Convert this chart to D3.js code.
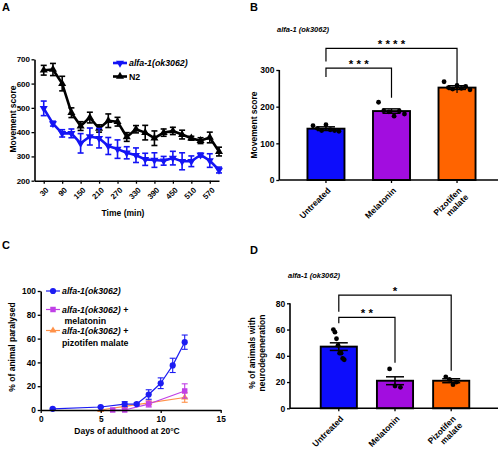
<!DOCTYPE html>
<html>
<head>
<meta charset="utf-8">
<script src="https://cdn.jsdelivr.net/npm/d3@7"></script>
<style>
  body { margin: 0; background: #fff; }
  svg { font-family: "Liberation Sans", Arial, sans-serif; font-weight: bold; }
</style>
</head>
<body>
<svg id="fig" width="500" height="452"></svg>
<script>
// ---- Panel A: movement score over time ----
var timeMin = [30, 60, 90, 120, 150, 180, 210, 240, 270, 300, 330, 360, 390, 420, 450, 480, 510, 540, 570, 600];
var alfaMove = [498, 435, 395, 395, 354, 382, 375, 343, 330, 315, 305, 288, 285, 282, 293, 280, 280, 306, 283, 244];
var alfaMoveErr = [30, 10, 15, 18, 40, 35, 40, 35, 38, 25, 30, 25, 30, 18, 28, 35, 22, 8, 28, 12];
var n2Move = [655, 658, 600, 480, 425, 460, 415, 447, 443, 380, 412, 398, 375, 398, 405, 390, 375, 365, 378, 320];
var n2MoveErr = [20, 25, 30, 20, 18, 22, 15, 28, 18, 18, 15, 30, 30, 15, 15, 18, 8, 12, 22, 18];
var timeTicks = [30, 90, 150, 210, 270, 330, 390, 450, 510, 570];
var moveTicksA = [200, 300, 400, 500, 600, 700];

// ---- Panel B: movement score by treatment ----
var treatments = ['Untreated', 'Melatonin', 'Pizotifen malate'];
var moveMean = [140, 188, 252];
var moveErr = [5, 6, 5];
var moveDots = [
  [148, 141, 135, 151, 137, 135, 133],
  [212, 189, 186, 174, 188, 180],
  [268, 252, 248, 258, 250, 255, 246]
];
var moveTicksB = [0, 100, 200, 300];
var moveSig = [
  { from: 0, to: 1, level: 305, leftEnd: 281, rightEnd: 224, label: '* * *' },
  { from: 0, to: 2, level: 359, leftEnd: 323, rightEnd: 237, label: '* * * *' }
];

// ---- Panel C: paralysis over days ----
var alfaDays = [1, 5, 7, 8, 9, 10, 11, 12];
var alfaPara = [1, 2.5, 5, 5, 13, 22.5, 37.5, 57];
var alfaParaErr = [0.5, 0.5, 2, 1, 4, 4.5, 6, 6];
var melaDays = [6, 7, 9, 12];
var melaPara = [0, 0, 5, 16];
var melaParaErr = [0, 0, 2.5, 6];
var pizoDays = [5, 7, 9, 12];
var pizoPara = [0, 3, 6, 10.5];
var pizoParaErr = [0, 1, 1.5, 4];
var dayTicks = [0, 5, 10, 15];
var paraTicks = [0, 20, 40, 60, 80, 100];

// ---- Panel D: neurodegeneration by treatment ----
var neuroMean = [47, 21, 21];
var neuroErr = [2.9, 3, 1.5];
var neuroDots = [
  [60, 58, 53, 48, 42, 42, 38, 37],
  [30, 17, 16],
  [24, 22, 18, 20]
];
var neuroTicks = [0, 20, 40, 60, 80];
var neuroSig = [
  { from: 0, to: 1, level: 69.3, leftEnd: 64.8, rightEnd: 34.7, label: '* *' },
  { from: 0, to: 2, level: 86.3, leftEnd: 73.6, rightEnd: 28.6, label: '*' }
];

var barColors = ['#0d0dfb', '#a20ddf', '#ff6400'];
var svg = d3.select('#fig');

function styleAxis(g, fs) {
  g.attr('font-family', null).attr('font-size', fs || 8);
  g.select('.domain').attr('stroke-width', 1.6);
  g.selectAll('.tick line').attr('stroke-width', 1.3);
  g.selectAll('.tick text').attr('fill', '#000').attr('font-weight', 'bold');
}

function rotateLabels(g, dx, dy) {
  g.selectAll('.tick text')
    .attr('x', 0).attr('y', 0).attr('dy', '0.35em')
    .attr('text-anchor', 'end')
    .attr('transform', 'translate(' + dx + ',' + dy + ') rotate(-45)');
}

function panelLabel(txt, x, y) {
  svg.append('text').attr('x', x).attr('y', y).attr('font-size', 11).text(txt);
}

function yTitle(lines, x, y, fs) {
  var t = svg.append('text').attr('transform', 'translate(' + x + ',' + y + ') rotate(-90)')
    .attr('text-anchor', 'middle').attr('font-size', fs);
  lines.forEach(function (l, i) {
    t.append('tspan').attr('x', 0).attr('dy', i === 0 ? (-(lines.length - 1) * 1.15) + 'em' : '1.15em').text(l);
  });
}

// error bars, connecting line and symbols for one series
function drawSeries(g, x, y, xs, ys, errs, opt) {
  var pts = xs.map(function (d, i) { return { x: d, y: ys[i], e: errs[i] }; });
  var eb = g.append('g').attr('stroke', opt.color).attr('stroke-width', opt.errWidth);
  pts.forEach(function (p) {
    if (!p.e) return;
    var cx = x(p.x), top = y(p.y + p.e), bot = y(p.y - p.e);
    eb.append('line').attr('x1', cx).attr('x2', cx).attr('y1', top).attr('y2', bot);
    eb.append('line').attr('x1', cx - opt.cap).attr('x2', cx + opt.cap).attr('y1', top).attr('y2', top);
    eb.append('line').attr('x1', cx - opt.cap).attr('x2', cx + opt.cap).attr('y1', bot).attr('y2', bot);
  });
  g.append('path').datum(pts)
    .attr('fill', 'none').attr('stroke', opt.color).attr('stroke-width', opt.lineWidth)
    .attr('stroke-linejoin', 'round')
    .attr('d', d3.line().x(function (d) { return x(d.x); }).y(function (d) { return y(d.y); }));
  g.selectAll(null).data(pts).enter().append('path')
    .attr('fill', opt.color)
    .attr('transform', function (d) { return 'translate(' + x(d.x) + ',' + y(d.y) + ') rotate(' + (opt.rot || 0) + ')'; })
    .attr('d', d3.symbol().type(opt.symbol).size(opt.size));
}

// legend entry: line + symbol, then a list of text lines ({text, italic, plus, dx, y})
function legendItem(g, x, y, opt, lines) {
  g.append('line').attr('x1', x - 7).attr('x2', x + 7).attr('y1', y).attr('y2', y)
    .attr('stroke', opt.color).attr('stroke-width', opt.lineWidth);
  g.append('path').attr('fill', opt.color)
    .attr('transform', 'translate(' + x + ',' + y + ') rotate(' + (opt.rot || 0) + ')')
    .attr('d', d3.symbol().type(opt.symbol).size(opt.size));
  lines.forEach(function (l) {
    var t = g.append('text').attr('font-size', 8.8).attr('x', x + 9 + (l.dx || 0)).attr('y', l.y);
    t.append('tspan').attr('font-style', l.italic ? 'italic' : null).text(l.text);
    if (l.plus) t.append('tspan').text(' +');
  });
}

// bar panel shared by B and D
function barPanel(o) {
  var g = svg.append('g');
  var x = d3.scaleBand().domain(treatments).range(o.xRange).paddingInner(o.pad).paddingOuter(o.pad / 2);
  var y = d3.scaleLinear().domain(o.yDomain).range(o.yRange);
  var bw = x.bandwidth();

  g.selectAll('rect').data(treatments).enter().append('rect')
    .attr('x', function (d) { return x(d); })
    .attr('y', function (d, i) { return y(o.mean[i]); })
    .attr('width', bw)
    .attr('height', function (d, i) { return y(0) - y(o.mean[i]); })
    .attr('fill', function (d, i) { return barColors[i]; })
    .attr('stroke', '#000').attr('stroke-width', 1.9);

  treatments.forEach(function (t, i) {
    var cx = x(t) + bw / 2, top = y(o.mean[i] + o.err[i]), bot = y(o.mean[i] - o.err[i]);
    g.append('line').attr('x1', cx).attr('x2', cx).attr('y1', top).attr('y2', bot).attr('stroke', '#000').attr('stroke-width', 1.5);
    [top, bot].forEach(function (yy) {
      g.append('line').attr('x1', cx - 9).attr('x2', cx + 9).attr('y1', yy).attr('y2', yy).attr('stroke', '#000').attr('stroke-width', 1.5);
    });
    var dots = o.dots[i], n = dots.length;
    g.selectAll(null).data(dots).enter().append('circle')
      .attr('cx', function (d, j) { return cx + bw * o.spread * (n > 1 ? j / (n - 1) - 0.5 : 0); })
      .attr('cy', function (d) { return y(d); })
      .attr('r', 2.4).attr('fill', '#000');
  });

  o.sig.forEach(function (s) {
    var x1 = x(treatments[s.from]) + bw / 2, x2 = x(treatments[s.to]) + bw / 2, ly = y(s.level);
    g.append('path')
      .attr('d', 'M' + x1 + ',' + y(s.leftEnd) + 'V' + ly + 'H' + x2 + 'V' + y(s.rightEnd))
      .attr('fill', 'none').attr('stroke', '#000').attr('stroke-width', 1.2);
    g.append('text').attr('x', (x1 + x2) / 2).attr('y', ly - 0.5).attr('text-anchor', 'middle')
      .attr('font-size', 11.5).text(s.label);
  });

  var ax = g.append('g').attr('transform', 'translate(' + o.yAxisX + ',0)')
    .call(d3.axisLeft(y).tickValues(o.ticks).tickSize(3).tickPadding(1.8).tickSizeOuter(0));
  styleAxis(ax, 8.5);
  ax.select('.domain').attr('d', 'M0,' + y(0) + 'V' + o.yRange[1]);

  var bx = g.append('g').attr('transform', 'translate(0,' + y(0) + ')')
    .call(d3.axisBottom(x).tickSize(3).tickSizeOuter(0));
  styleAxis(bx, 8.5);
  bx.select('.domain').attr('d', 'M' + o.yAxisX + ',0H' + o.xEnd);
  rotateLabels(bx, 3, 9);
  bx.selectAll('.tick text').each(function (d) {
    var parts = d.split(' '), t = d3.select(this);
    if (parts.length > 1) {
      t.text(null);
      parts.forEach(function (p, k) { t.append('tspan').attr('x', 0).attr('dy', k === 0 ? '0.35em' : '1.1em').text(p); });
    }
  });

  svg.append('text').attr('x', o.subX).attr('y', o.subY).attr('font-size', 7.5)
    .attr('font-style', 'italic').text('alfa-1 (ok3062)');
}

// ===== Panel A =====
var gA = svg.append('g');
var xA = d3.scaleLinear().domain([0, 600]).range([34.5, 219]);
var yA = d3.scaleLinear().domain([200, 700]).range([180.7, 59.3]);
var blueA = { color: '#1414f5', lineWidth: 2.6, errWidth: 1.6, cap: 3, symbol: d3.symbolTriangle, size: 28, rot: 180 };
var blackA = { color: '#000', lineWidth: 2.6, errWidth: 1.6, cap: 3, symbol: d3.symbolTriangle, size: 28, rot: 0 };
drawSeries(gA, xA, yA, timeMin, n2Move, n2MoveErr, blackA);
drawSeries(gA, xA, yA, timeMin, alfaMove, alfaMoveErr, blueA);
var axA = gA.append('g').attr('transform', 'translate(34.5,0)')
  .call(d3.axisLeft(yA).tickValues(moveTicksA).tickSize(3).tickPadding(1.5).tickSizeOuter(0));
styleAxis(axA, 8);
var bxA = gA.append('g').attr('transform', 'translate(0,180.7)')
  .call(d3.axisBottom(xA).tickValues(timeTicks).tickSize(3).tickSizeOuter(0));
styleAxis(bxA, 7.8);
rotateLabels(bxA, 3, 8);
legendItem(gA, 120, 63, blueA, [{ text: 'alfa-1(ok3062)', italic: true, y: 66 }]);
legendItem(gA, 120, 76.5, blackA, [{ text: 'N2', y: 79.5 }]);
svg.append('text').attr('x', 123).attr('y', 216).attr('text-anchor', 'middle').attr('font-size', 8.5).text('Time (min)');
yTitle(['Movement score'], 15.5, 119, 8.5);
panelLabel('A', 2, 11);

// ===== Panel B =====
barPanel({
  xRange: [293.2, 489.8], pad: 0.435, yDomain: [0, 300], yRange: [180, 70],
  mean: moveMean, err: moveErr, dots: moveDots, spread: 0.7, sig: moveSig,
  ticks: moveTicksB, yAxisX: 279.3, xEnd: 498, subX: 277, subY: 32
});
yTitle(['Movement score'], 256.5, 125, 8.5);
panelLabel('B', 250, 11);

// ===== Panel C =====
var gC = svg.append('g');
var xC = d3.scaleLinear().domain([0, 15]).range([40.7, 220.7]);
var yC = d3.scaleLinear().domain([0, 100]).range([410, 291]);
var alfaC = { color: '#1c1cf2', lineWidth: 1.2, errWidth: 1.1, cap: 3, symbol: d3.symbolCircle, size: 30 };
var melaC = { color: '#c040e6', lineWidth: 1.2, errWidth: 1.1, cap: 3, symbol: d3.symbolSquare, size: 30 };
var pizoC = { color: '#ff9148', lineWidth: 1.2, errWidth: 1.1, cap: 3, symbol: d3.symbolTriangle, size: 22 };
drawSeries(gC, xC, yC, pizoDays, pizoPara, pizoParaErr, pizoC);
drawSeries(gC, xC, yC, melaDays, melaPara, melaParaErr, melaC);
drawSeries(gC, xC, yC, alfaDays, alfaPara, alfaParaErr, alfaC);
var axC = gC.append('g').attr('transform', 'translate(40.7,0)')
  .call(d3.axisLeft(yC).tickValues(paraTicks).tickSize(3).tickPadding(1.8).tickSizeOuter(0));
styleAxis(axC, 8.3);
var bxC = gC.append('g').attr('transform', 'translate(0,410)')
  .call(d3.axisBottom(xC).tickValues(dayTicks).tickSize(3).tickSizeOuter(0));
styleAxis(bxC, 8.3);
legendItem(gC, 53, 291, alfaC, [{ text: 'alfa-1(ok3062)', italic: true, y: 294 }]);
legendItem(gC, 53, 309.5, melaC, [
  { text: 'alfa-1(ok3062)', italic: true, plus: true, y: 312.5 },
  { text: 'melatonin', dx: 2.5, y: 324 }
]);
legendItem(gC, 53, 330.5, pizoC, [
  { text: 'alfa-1(ok3062)', italic: true, plus: true, y: 333.5 },
  { text: 'pizotifen malate', y: 346 }
]);
svg.append('text').attr('x', 127).attr('y', 434).attr('text-anchor', 'middle').attr('font-size', 8.5).text('Days of adulthood at 20°C');
yTitle(['% of animal paralysed'], 15, 347, 8.5);
panelLabel('C', 2, 248.5);

// ===== Panel D =====
barPanel({
  xRange: [310.7, 479.3], pad: 0.357, yDomain: [0, 80], yRange: [408.3, 303.3],
  mean: neuroMean, err: neuroErr, dots: neuroDots, spread: 0.3, sig: neuroSig,
  ticks: neuroTicks, yAxisX: 290, xEnd: 498, subX: 288, subY: 277.5
});
yTitle(['% of animals with', 'neurodegeneration'], 265, 353, 8.5);
panelLabel('D', 250, 253.5);
</script>
</body>
</html>
